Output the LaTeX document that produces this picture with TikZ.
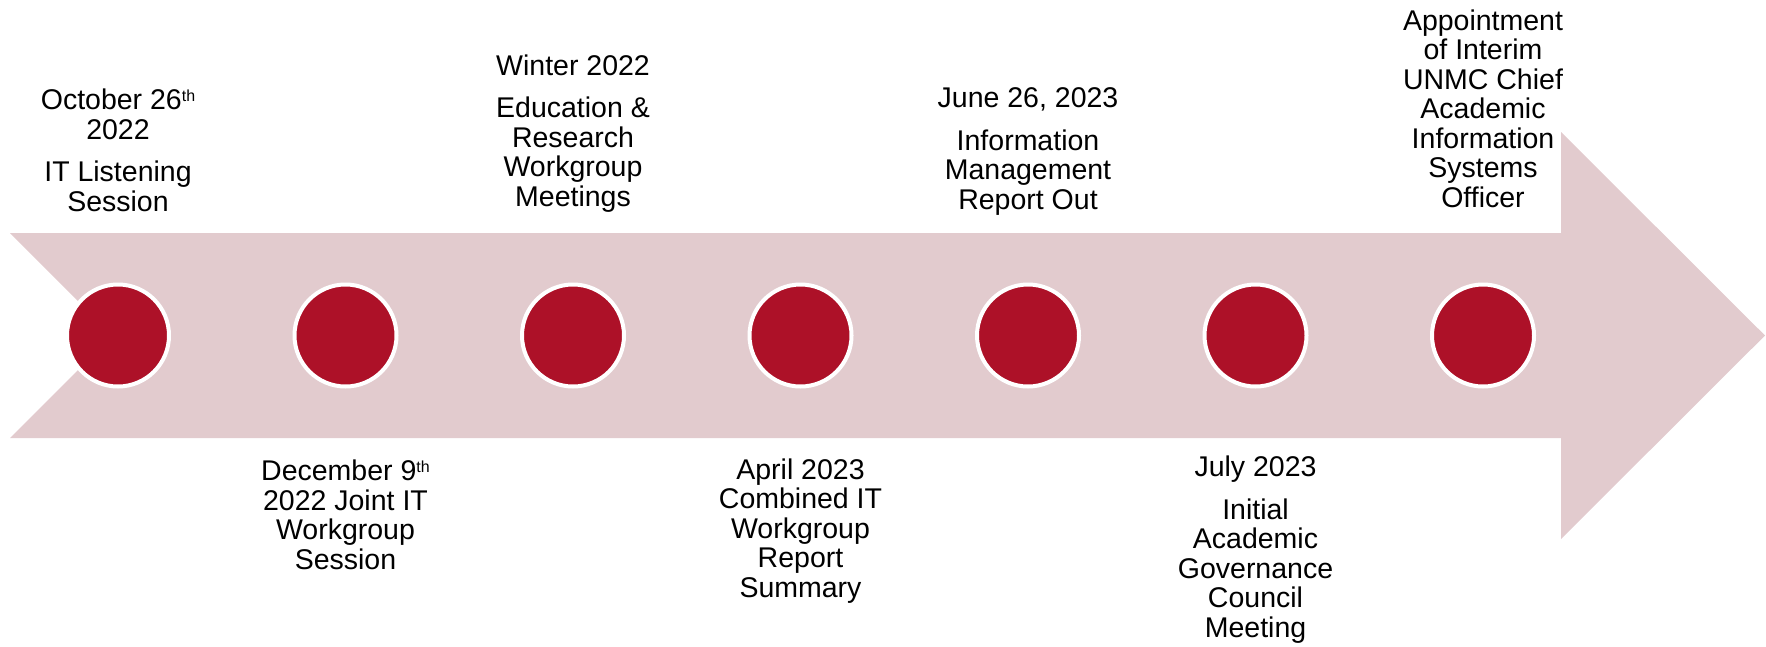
\documentclass[tikz,border=0pt]{standalone}
\usepackage{fontspec}
\setmainfont{Liberation Sans}
\definecolor{arrowpink}{HTML}{E2CBCE}
\definecolor{dotred}{HTML}{AD1128}
\newcommand{\supth}{\raisebox{8pt}{\fontsize{16}{16}\selectfont th}}
\begin{document}
\begin{tikzpicture}[x=1pt,y=-1pt, line join=round,
	dot/.style={circle, fill=dotred, draw=white, line width=4pt, minimum size=102pt, inner sep=0pt},
	evtext/.style={align=center, anchor=base, inner sep=0pt, font=\fontsize{28.5}{29.5}\selectfont}]
	\def\ytop{233} \def\ybot{438} \def\ymid{335.5} % arrow body
	\def\xhead{1561} \def\dx{227.5}
	\useasboundingbox (0,0) rectangle (1766,646);
	\fill[arrowpink] (10,\ytop)--(\xhead,\ytop)--(\xhead,132)--(1765,\ymid)--(\xhead,539)--(\xhead,\ybot)--(10,\ybot)--(112.5,\ymid)--cycle;
	\node[dot] (d1) at (118,\ymid) {};
	\node[dot] (d2) at (118+\dx,\ymid) {};
	\node[dot] (d3) at (118+2*\dx,\ymid) {};
	\node[dot] (d4) at (118+3*\dx,\ymid) {};
	\node[dot] (d5) at (118+4*\dx,\ymid) {};
	\node[dot] (d6) at (118+5*\dx,\ymid) {};
	\node[dot] (d7) at (118+6*\dx,\ymid) {};
	% dates and events (placed by last baseline)
	\node[evtext] (t1) at (118,211) {October 26\supth\\2022\\[13pt]IT Listening\\Session};
	\node[evtext] (t2) at (118+\dx,569) {December 9\supth\\2022 Joint IT\\Workgroup\\Session};
	\node[evtext] (t3) at (118+2*\dx,206) {Winter 2022\\[13pt]Education \&\\Research\\Workgroup\\Meetings};
	\node[evtext] (t4) at (118+3*\dx,597) {April 2023\\Combined IT\\Workgroup\\Report\\Summary};
	\node[evtext] (t5) at (118+4*\dx,209) {June 26, 2023\\[13pt]Information\\Management\\Report Out};
	\node[evtext] (t6) at (118+5*\dx,637) {July 2023\\[13pt]Initial\\Academic\\Governance\\Council\\Meeting};
	\node[evtext] (t7) at (118+6*\dx,207) {Appointment\\of Interim\\UNMC Chief\\Academic\\Information\\Systems\\Officer};
\end{tikzpicture}
\end{document}
